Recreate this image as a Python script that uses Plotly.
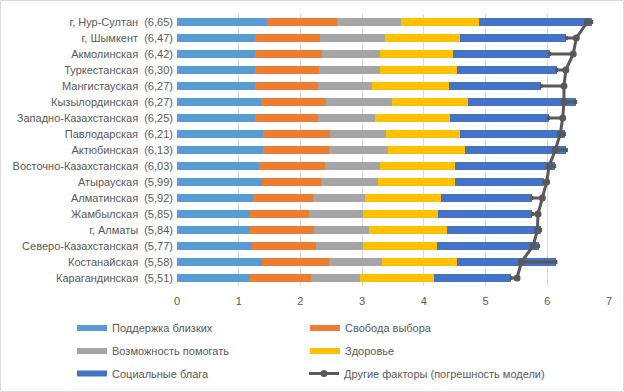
import plotly.graph_objects as go

regions = ["г. Нур-Султан", "г. Шымкент", "Акмолинская", "Туркестанская", "Мангистауская",
           "Кызылординская", "Западно-Казахстанская", "Павлодарская", "Актюбинская",
           "Восточно-Казахстанская", "Атырауская", "Алматинская", "Жамбылская", "г. Алматы",
           "Северо-Казахстанская", "Костанайская", "Карагандинская"]
totals = [6.65, 6.47, 6.42, 6.30, 6.27, 6.27, 6.25, 6.21, 6.13, 6.03, 5.99, 5.92, 5.85, 5.84, 5.77, 5.58, 5.51]

support = [1.46, 1.26, 1.26, 1.27, 1.27, 1.36, 1.26, 1.40, 1.40, 1.33, 1.37, 1.23, 1.19, 1.19, 1.21, 1.37, 1.19]
freedom = [1.13, 1.06, 1.09, 1.03, 1.01, 1.05, 1.02, 1.08, 1.06, 1.07, 0.96, 0.97, 0.95, 1.03, 1.04, 1.09, 0.98]
helping = [1.04, 1.05, 0.94, 0.99, 0.88, 1.08, 0.93, 0.91, 0.96, 0.89, 0.93, 0.85, 0.87, 0.89, 0.76, 0.86, 0.79]
health = [1.27, 1.22, 1.19, 1.24, 1.25, 1.22, 1.21, 1.20, 1.24, 1.21, 1.24, 1.22, 1.22, 1.27, 1.21, 1.22, 1.21]
social = [1.82, 1.72, 1.56, 1.62, 1.49, 1.75, 1.60, 1.69, 1.65, 1.62, 1.44, 1.48, 1.53, 1.51, 1.64, 1.60, 1.24]

series_names = ["Поддержка близких", "Свобода выбора", "Возможность помогать", "Здоровье", "Социальные блага"]
series_colors = ["#5B9BD5", "#ED7D31", "#A5A5A5", "#FFC000", "#4472C4"]
other_name = "Другие факторы (погрешность модели)"

labels = [f"{r}  ({t:.2f})".replace(".", ",") for r, t in zip(regions, totals)]

fig = go.Figure()
series = [support, freedom, helping, health, social]
legend_ids = ["legend", "legend", "legend2", "legend2", "legend3"]
for name, vals, col in zip(series_names, series, series_colors):
    fig.add_trace(go.Bar(y=labels, x=vals, name=name, orientation="h", showlegend=False,
                         marker=dict(color=col, line=dict(width=0))))

# legend entries drawn as wide colour strips, like the original
for name, col, lg in zip(series_names, series_colors, legend_ids):
    fig.add_trace(go.Scatter(x=[None], y=[None], mode="lines", name=name,
                             line=dict(color=col, width=6), legend=lg, hoverinfo="skip"))

bar_sums = [sum(v) for v in zip(*series)]
diff = [b - t for b, t in zip(bar_sums, totals)]
plus = [d if d > 0 else 0 for d in diff]
minus = [-d if d < 0 else 0 for d in diff]

fig.add_trace(go.Scatter(y=labels, x=totals, name=other_name, mode="lines+markers",
                         line=dict(color="#595959", width=3),
                         marker=dict(color="#595959", size=7),
                         error_x=dict(type="data", symmetric=False, array=plus, arrayminus=minus,
                                      color="#595959", thickness=3, width=2),
                         legend="legend4"))

font_fam = "Liberation Sans"
leg_common = dict(orientation="h", entrywidth=188, entrywidthmode="pixels",
                  traceorder="normal", xanchor="left", yanchor="middle",
                  font=dict(family=font_fam, size=11, color="#595959"),
                  bgcolor="rgba(0,0,0,0)")

n = len(labels)
fig.update_layout(
    width=624, height=392,
    margin=dict(l=177, r=15, t=14, b=106, autoexpand=False),
    barmode="stack", bargap=0.55,
    plot_bgcolor="white", paper_bgcolor="white",
    font=dict(family=font_fam, size=11, color="#595959"),
    xaxis=dict(range=[0, 7], dtick=1, showgrid=True, gridcolor="#D9D9D9", gridwidth=1,
               zeroline=False, showline=False, ticks="", ticklabelstandoff=7,
               tickfont=dict(size=11, color="#595959")),
    yaxis=dict(range=[n - 0.5, -0.5], autorange=False, showgrid=False, showline=False, ticks="",
               tickfont=dict(size=11, color="#595959"), ticksuffix=" "),
    legend=dict(**leg_common, x=-0.243, y=(286 - 328) / 272),
    legend2=dict(**leg_common, x=-0.243, y=(286 - 351) / 272),
    legend3=dict(**leg_common, x=-0.243, y=(286 - 373.5) / 272),
    legend4=dict(orientation="h", traceorder="normal", xanchor="left", yanchor="middle",
                 font=dict(family=font_fam, size=11, color="#595959"),
                 bgcolor="rgba(0,0,0,0)", x=(304 - 177) / 432, y=(286 - 373.5) / 272),
    shapes=[dict(type="rect", xref="paper", yref="paper",
                 x0=-176.5/432, x1=(623.5-177)/432, y0=-(391.5-286)/272, y1=(286-0.5)/272,
                 line=dict(color="#D9D9D9", width=1), fillcolor="rgba(0,0,0,0)", layer="below")],
)

fig.write_html("out.html", config={"displayModeBar": False},
               post_script="document.body.style.margin='0';")
